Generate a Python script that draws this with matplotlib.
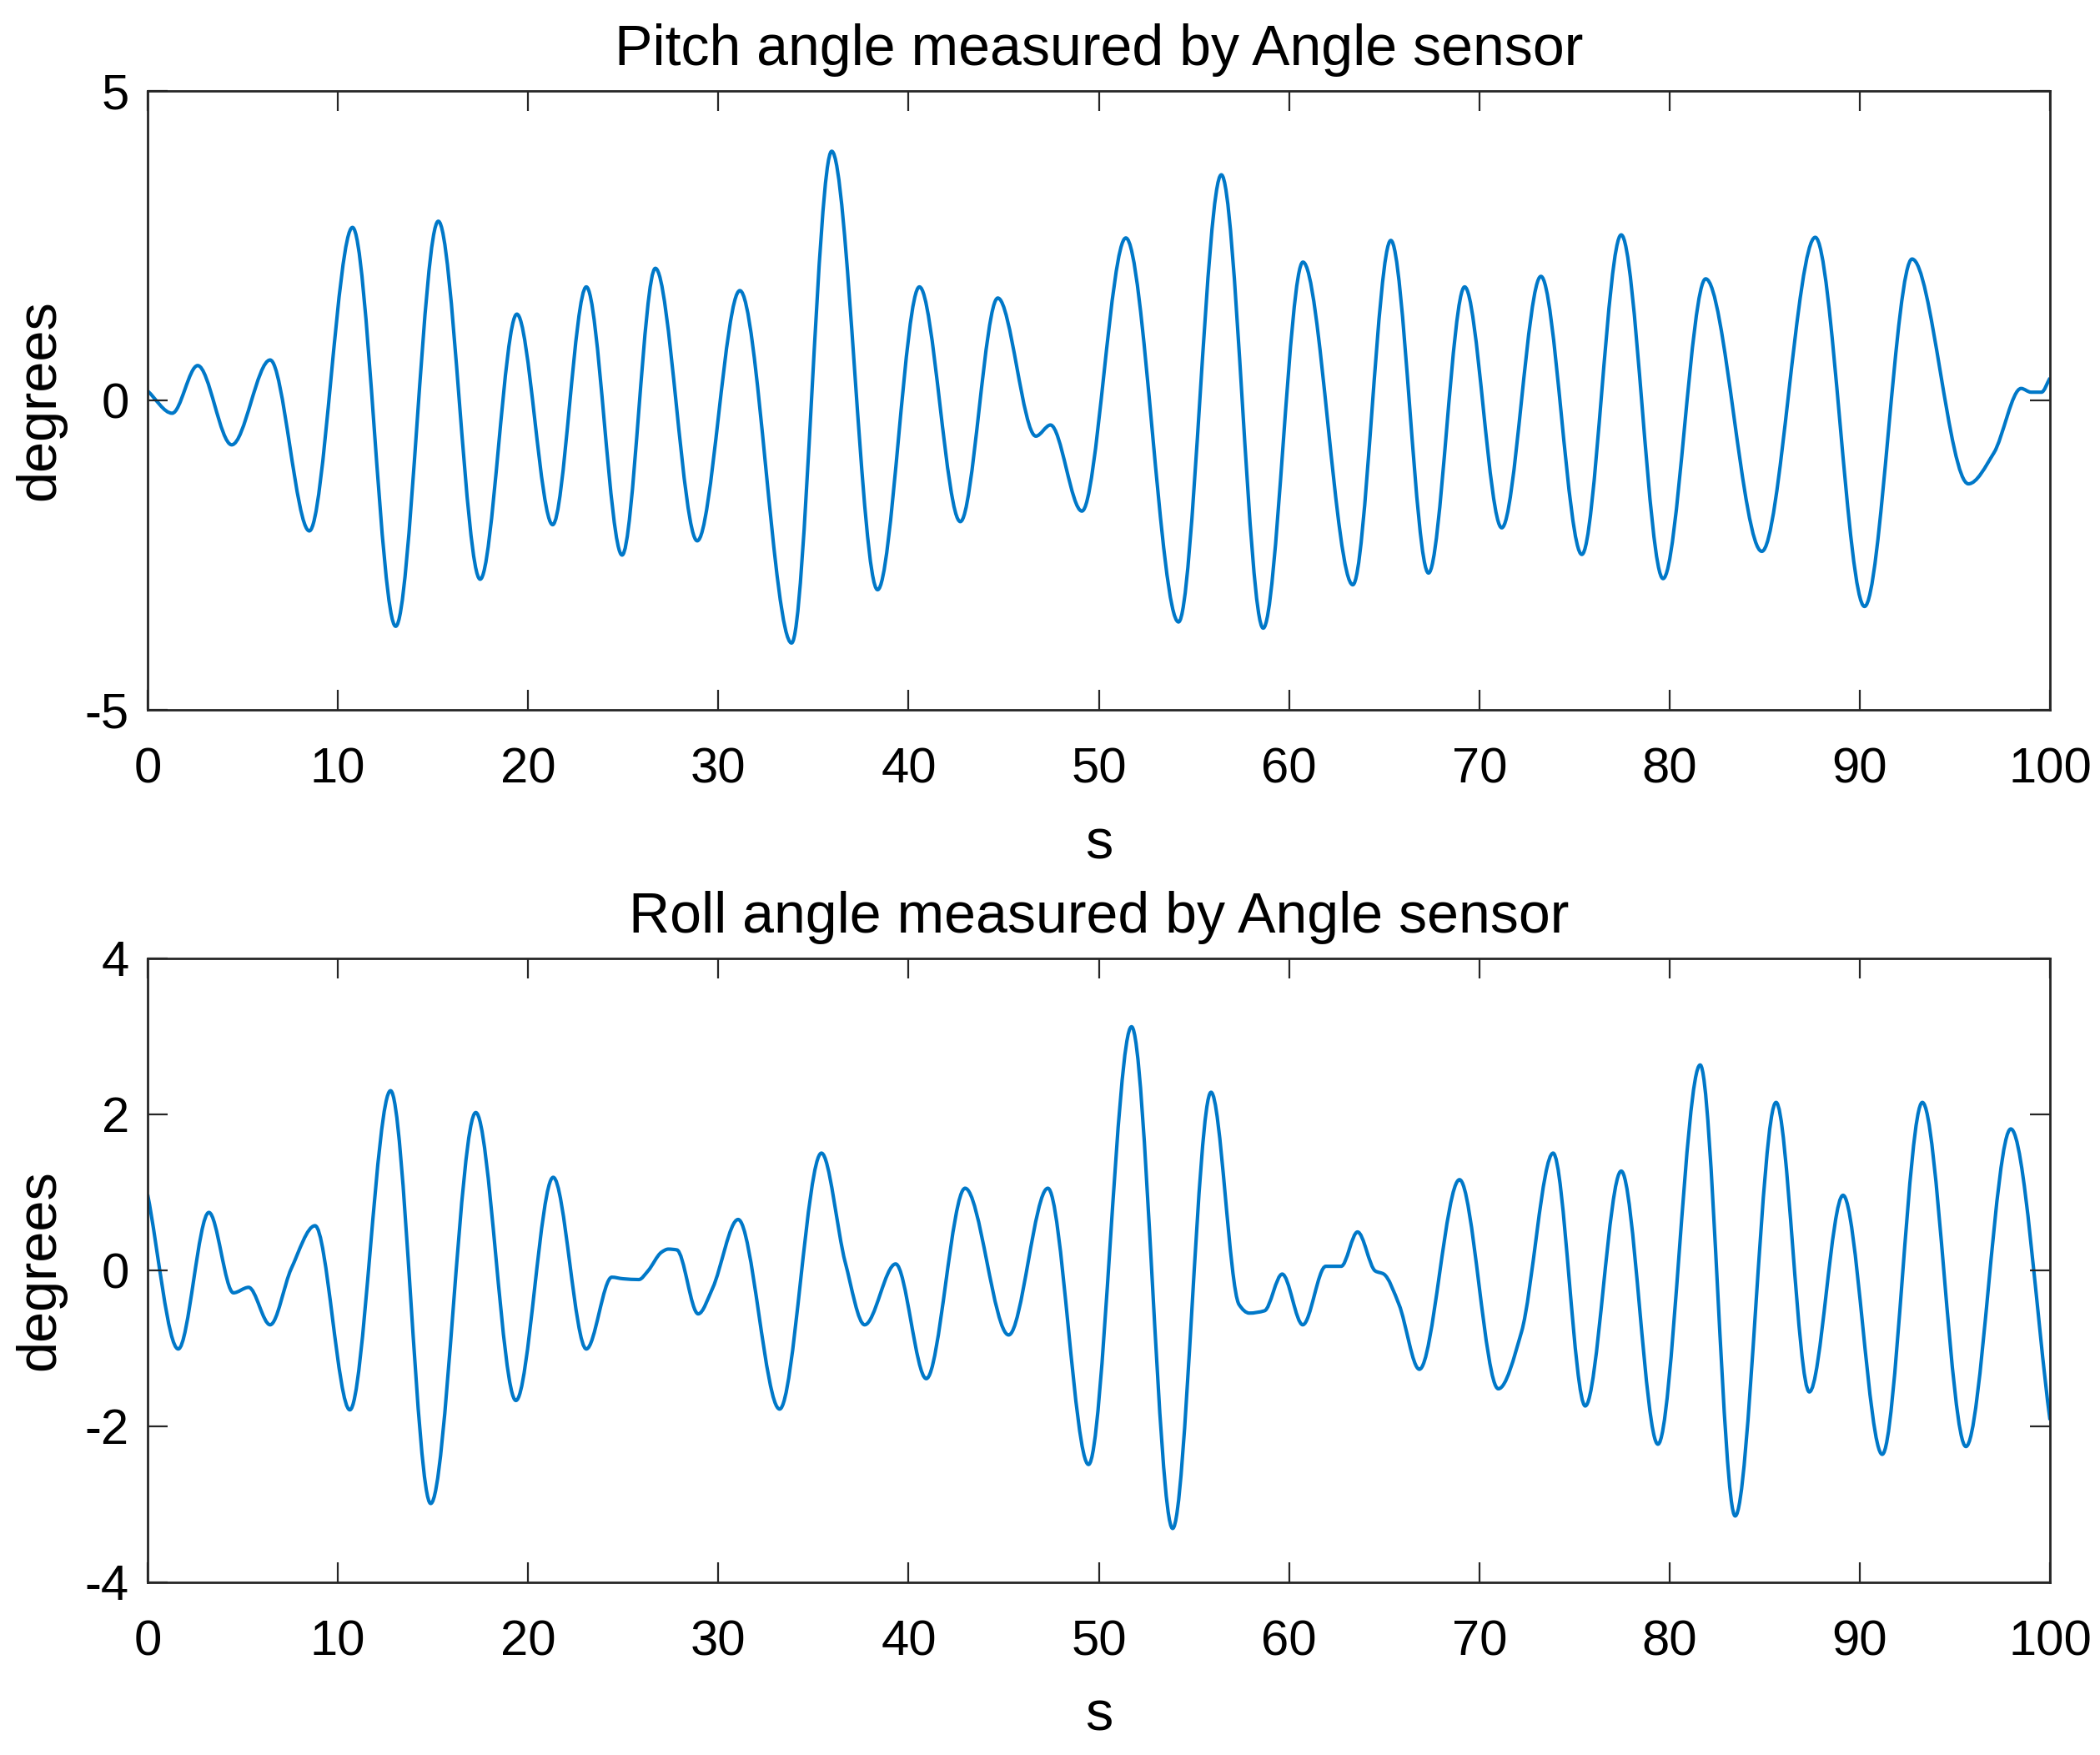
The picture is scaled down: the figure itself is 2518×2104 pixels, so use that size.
import numpy as np
import matplotlib

matplotlib.use("Agg")
import matplotlib.pyplot as plt
from matplotlib.path import Path
from matplotlib.patches import PathPatch


# extrema / turning points (time in s, angle in degrees)
pitch_t = [0.0, 1.29, 2.63, 4.42, 6.44, 8.50, 10.77, 13.04, 15.28, 17.48,
           19.41, 21.29, 23.06, 24.94, 26.69, 28.89, 31.13, 33.85, 35.96, 38.37,
           40.57, 42.72, 44.69, 46.69, 47.46, 49.11, 51.42, 54.19, 56.44, 58.64,
           60.73, 63.35, 65.35, 67.33, 69.23, 71.18, 73.24, 75.39, 77.46, 79.66,
           81.90, 84.85, 87.66, 90.25, 92.75, 95.71, 97.05, 98.48, 99.00, 99.55,
           100.0]
pitch_v = [0.15, -0.21, 0.56, -0.72, 0.65, -2.11, 2.79, -3.65, 2.89, -2.89,
           1.39, -2.01, 1.83, -2.50, 2.13, -2.27, 1.77, -3.92, 4.02, -3.06,
           1.83, -1.96, 1.65, -0.58, -0.40, -1.79, 2.62, -3.58, 3.64, -3.68,
           2.23, -2.98, 2.58, -2.79, 1.83, -2.06, 2.00, -2.49, 2.67, -2.88,
           1.96, -2.44, 2.63, -3.33, 2.28, -1.35, -0.85, 0.19, 0.13, 0.13,
           0.36]

roll_t = [0.0, 1.61, 3.22, 4.51, 5.31, 6.44, 7.55, 8.80, 10.63, 12.77,
          14.88, 17.25, 19.36, 21.32, 23.06, 24.40, 24.99, 25.82, 26.30, 27.01,
          27.37, 27.82, 28.94, 29.70, 31.04, 33.22, 35.42, 36.67, 37.69, 39.32,
          40.93, 42.97, 45.26, 47.32, 49.46, 51.72, 53.88, 55.90, 57.37, 57.91,
          58.71, 59.64, 60.72, 61.93, 62.74, 63.60, 64.53, 64.98, 65.78, 66.85,
          68.96, 71.00, 72.22, 73.88, 75.57, 77.46, 79.39, 81.61, 83.45, 85.60,
          87.35, 89.12, 91.18, 93.29, 95.58, 97.94, 100.0]
roll_v = [0.97, -1.01, 0.74, -0.29, -0.22, -0.70, 0.02, 0.57, -1.79, 2.30,
          -2.99, 2.02, -1.67, 1.19, -1.01, -0.09, -0.11, -0.12, -0.01, 0.23,
          0.27, 0.26, -0.56, -0.23, 0.65, -1.78, 1.50, 0.10, -0.70, 0.08,
          -1.39, 1.05, -0.83, 1.05, -2.49, 3.12, -3.31, 2.28, -0.44, -0.55,
          -0.52, -0.05, -0.70, 0.05, 0.05, 0.49, -0.01, -0.05, -0.44, -1.27,
          1.16, -1.52, -0.79, 1.50, -1.74, 1.27, -2.23, 2.63, -3.15, 2.15,
          -1.56, 0.96, -2.36, 2.15, -2.26, 1.81, -1.92]

titles = ["Pitch angle measured by Angle sensor", "Roll angle measured by Angle sensor"]
ylims = [(-5, 5), (-4, 4)]
yticks = [[-5, 0, 5], [-4, -2, 0, 2, 4]]
xticks = list(range(0, 101, 10))

LINE_COLOR = "#0078c8"
AXIS_COLOR = "#262626"

plt.rcParams["font.family"] = ["Liberation Sans", "DejaVu Sans"]
plt.rcParams["axes.unicode_minus"] = False


def smooth_path(t, v):
    # cubic curve through the read points, flat at turning points
    t = np.asarray(t, dtype=float)
    v = np.asarray(v, dtype=float)
    d = np.diff(v) / np.diff(t)
    m = np.zeros_like(v)
    m[0] = d[0]
    m[-1] = d[-1]
    for i in range(1, len(v) - 1):
        if d[i - 1] * d[i] > 0:
            m[i] = 2.0 / (1.0 / d[i - 1] + 1.0 / d[i])
    verts = [(t[0], v[0])]
    codes = [Path.MOVETO]
    for i in range(len(t) - 1):
        h = t[i + 1] - t[i]
        verts += [
            (t[i] + h / 3, v[i] + m[i] * h / 3),
            (t[i + 1] - h / 3, v[i + 1] - m[i + 1] * h / 3),
            (t[i + 1], v[i + 1]),
        ]
        codes += [Path.CURVE4] * 3
    return Path(verts, codes)


fig = plt.figure(figsize=(12.59, 10.52), dpi=200)
ax_top = fig.add_axes([0.0703, 0.5955, 0.9059, 0.3529])
ax_bot = fig.add_axes([0.0703, 0.0984, 0.9059, 0.3557])

series = [(pitch_t, pitch_v), (roll_t, roll_v)]
for ax, (t, v), title, ylim, yt in zip([ax_top, ax_bot], series, titles, ylims, yticks):
    ax.add_patch(PathPatch(smooth_path(t, v), facecolor="none",
                           edgecolor=LINE_COLOR, lw=1.5, joinstyle="round"))
    ax.set_xlim(0, 100)
    ax.set_ylim(*ylim)
    ax.set_xticks(xticks)
    ax.set_yticks(yt)
    ax.tick_params(direction="in", length=8.5, width=0.8, top=True, right=True,
                   labelsize=21.5, colors=AXIS_COLOR, labelcolor="black")
    ax.tick_params(axis="x", pad=16)
    ax.tick_params(axis="y", pad=8)
    for spine in ax.spines.values():
        spine.set_color(AXIS_COLOR)
        spine.set_linewidth(1.0)
    ax.set_title(title, fontsize=24.5, pad=11)
    ax.set_xlabel("s", fontsize=24, labelpad=11)
    ax.set_ylabel("degrees", fontsize=24, labelpad=8)

fig.savefig("out.png", dpi=200, facecolor="white")
